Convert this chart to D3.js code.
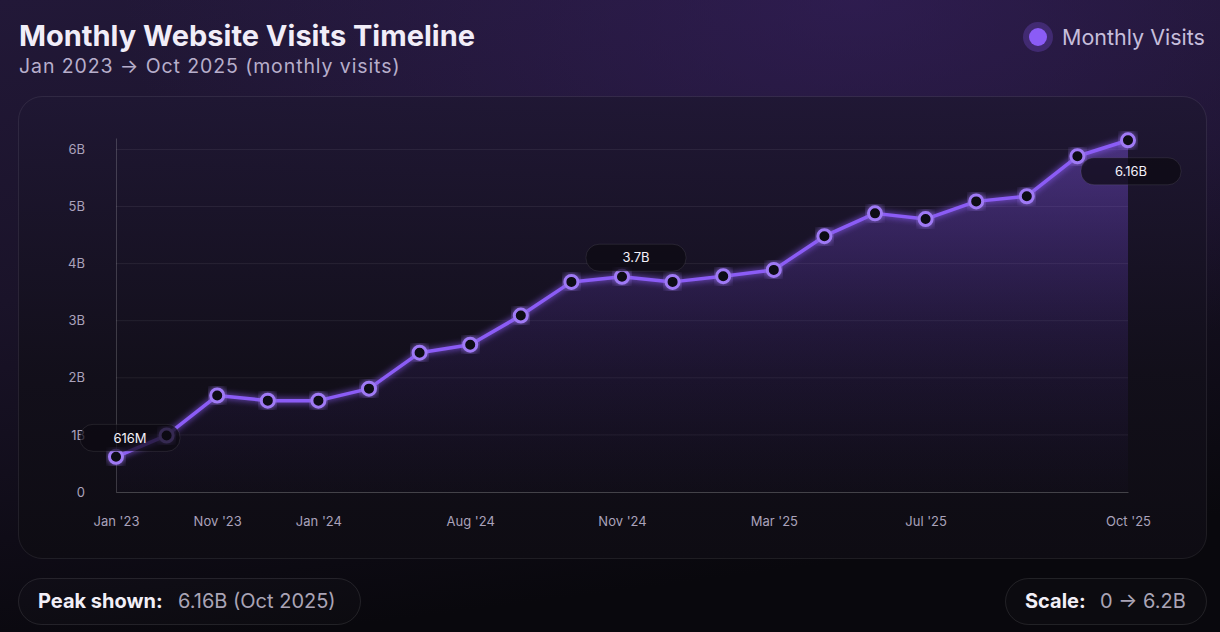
<!DOCTYPE html>
<head>
  <meta charset="utf-8">
  <title>Monthly Website Visits Timeline</title>
  <script src="https://d3js.org/d3.v7.min.js"></script>
  <style>
    body { margin: 0; background: #0b0a10; font-family: Inter, "Noto Sans", sans-serif; }
    svg { display: block; }
  </style>
</head>
<body>
<svg width="1220" height="632"></svg>

<script type="text/javascript">

// point labels (not strictly monthly, so the x scale works by index)
var months = ["Jan '23", "Jun '23", "Nov '23", "Dec '23", "Jan '24", "Mar '24", "May '24",
  "Aug '24", "Sep '24", "Oct '24", "Nov '24", "Dec '24", "Feb '25", "Mar '25",
  "Apr '25", "May '25", "Jul '25", "Aug '25", "Sep '25", "Sep '25", "Oct '25"];
// visits in billions
var visits = [0.616, 0.99, 1.69, 1.6, 1.6, 1.81, 2.44, 2.58, 3.09, 3.68, 3.77, 3.68,
  3.78, 3.89, 4.48, 4.88, 4.78, 5.09, 5.18, 5.88, 6.16];
var tickIdx = [0, 2, 4, 7, 10, 13, 16, 20];
var yTicks = [0, 1, 2, 3, 4, 5, 6];
var yMax = 6.2;
// callouts on the line
var notes = [
  { i: 0, text: "616M" },
  { i: 10, text: "3.7B" },
  { i: 20, text: "6.16B" }
];

var svg = d3.select("svg");
var defs = svg.append("defs");

// page background
var bg = defs.append("linearGradient").attr("id", "bg")
  .attr("x1", 0).attr("y1", 0).attr("x2", 0.25).attr("y2", 1);
bg.append("stop").attr("offset", "0%").attr("stop-color", "#221838");
bg.append("stop").attr("offset", "45%").attr("stop-color", "#1a1329");
bg.append("stop").attr("offset", "100%").attr("stop-color", "#09080d");
svg.append("rect").attr("width", 1220).attr("height", 632).attr("fill", "url(#bg)");

var glowTop = defs.append("radialGradient").attr("id", "glowTop")
  .attr("cx", 0.7).attr("cy", 0).attr("r", 0.6);
glowTop.append("stop").attr("offset", "0%").attr("stop-color", "#3a2166").attr("stop-opacity", 0.55);
glowTop.append("stop").attr("offset", "100%").attr("stop-color", "#3a2166").attr("stop-opacity", 0);
svg.append("rect").attr("width", 1220).attr("height", 632).attr("fill", "url(#glowTop)");

// card
var cardG = defs.append("linearGradient").attr("id", "card")
  .attr("x1", 0).attr("y1", 0).attr("x2", 0).attr("y2", 1);
cardG.append("stop").attr("offset", "0%").attr("stop-color", "#1f1733").attr("stop-opacity", 0.9);
cardG.append("stop").attr("offset", "60%").attr("stop-color", "#120f1a").attr("stop-opacity", 0.95);
cardG.append("stop").attr("offset", "100%").attr("stop-color", "#0e0c13");
svg.append("rect")
  .attr("x", 18.5).attr("y", 96.5).attr("width", 1188).attr("height", 462).attr("rx", 24)
  .attr("fill", "url(#card)")
  .attr("stroke", "rgba(255,255,255,0.08)");

// title + subtitle
svg.append("text").attr("x", 19).attr("y", 46)
  .attr("fill", "#f1edf8").attr("font-size", 29).attr("font-weight", 700)
  .text("Monthly Website Visits Timeline");
svg.append("text").attr("x", 19).attr("y", 73)
  .attr("fill", "#b7aecb").attr("font-size", 19.5).attr("letter-spacing", 0.9)
  .text("Jan 2023 \u2192 Oct 2025 (monthly visits)");

// legend
svg.append("circle").attr("cx", 1038).attr("cy", 37).attr("r", 15).attr("fill", "rgba(139,92,246,0.25)");
svg.append("circle").attr("cx", 1038).attr("cy", 37).attr("r", 9).attr("fill", "#8b5cf6");
svg.append("text").attr("x", 1062).attr("y", 45)
  .attr("fill", "#c6bedb").attr("font-size", 21.5)
  .text("Monthly Visits");

// scales
var x = d3.scalePoint().domain(d3.range(visits.length)).range([116, 1128]);
var y = d3.scaleLinear().domain([0, yMax]).range([492, 138]);

// grid
svg.append("g").selectAll("line").data(yTicks.filter(function(d) { return d > 0; }))
  .enter().append("line")
    .attr("x1", 116).attr("x2", 1128)
    .attr("y1", function(d) { return y(d); }).attr("y2", function(d) { return y(d); })
    .attr("stroke", "rgba(255,255,255,0.07)");

// area under line
var areaG = defs.append("linearGradient").attr("id", "areaG")
  .attr("gradientUnits", "userSpaceOnUse")
  .attr("x1", 0).attr("y1", y(yMax)).attr("x2", 0).attr("y2", y(0));
areaG.append("stop").attr("offset", "0%").attr("stop-color", "#8b5cf6").attr("stop-opacity", 0.4);
areaG.append("stop").attr("offset", "55%").attr("stop-color", "#6d3fd0").attr("stop-opacity", 0.15);
areaG.append("stop").attr("offset", "100%").attr("stop-color", "#4c2a99").attr("stop-opacity", 0.02);

var area = d3.area()
  .x(function(d, i) { return x(i); })
  .y0(y(0))
  .y1(function(d) { return y(d); });
svg.append("path").datum(visits).attr("d", area).attr("fill", "url(#areaG)");

// axes
var yAxis = d3.axisLeft(y).tickValues(yTicks).tickSize(0).tickPadding(31)
  .tickFormat(function(d) { return d === 0 ? "0" : d + "B"; });
var gy = svg.append("g").attr("transform", "translate(116,0)").call(yAxis);
gy.select(".domain").attr("stroke", "rgba(255,255,255,0.18)");

var xAxis = d3.axisBottom(x).tickValues(tickIdx).tickSize(0).tickPadding(25)
  .tickFormat(function(i) { return months[i]; });
var gx = svg.append("g").attr("transform", "translate(0,492)").call(xAxis);
gx.select(".domain").attr("stroke", "rgba(255,255,255,0.22)");

svg.selectAll(".tick text")
  .attr("fill", "#aaa2bb").attr("font-size", 13)
  .attr("font-family", "Inter, 'Noto Sans', sans-serif");

// glow filter
var f = defs.append("filter").attr("id", "glow")
  .attr("x", "-20%").attr("y", "-20%").attr("width", "140%").attr("height", "140%");
f.append("feGaussianBlur").attr("stdDeviation", 3).attr("result", "b");
var m = f.append("feMerge");
m.append("feMergeNode").attr("in", "b");
m.append("feMergeNode").attr("in", "SourceGraphic");

var line = d3.line()
  .x(function(d, i) { return x(i); })
  .y(function(d) { return y(d); });
svg.append("path").datum(visits).attr("d", line)
  .attr("fill", "none").attr("stroke", "#8b5cf6").attr("stroke-width", 3.5)
  .attr("stroke-linejoin", "round").attr("filter", "url(#glow)");

svg.append("g").selectAll("circle").data(visits).enter().append("circle")
  .attr("cx", function(d, i) { return x(i); })
  .attr("cy", function(d) { return y(d); })
  .attr("r", 6.5)
  .attr("fill", "#0c0812")
  .attr("stroke", "#9f7af5").attr("stroke-width", 3)
  .attr("filter", "url(#glow)");

// callout boxes
var bw = 100, bh = 27;
var nG = svg.append("g").selectAll("g").data(notes).enter().append("g")
  .attr("transform", function(d) {
    var cx = Math.min(x(d.i) + 14, 1131);
    var py = y(visits[d.i]);
    var cy = py - 20 - bh / 2 < y(yMax) ? py + 31 : py - 19;
    return "translate(" + cx + "," + cy + ")";
  });
nG.append("rect")
  .attr("x", -bw / 2).attr("y", -bh / 2).attr("width", bw).attr("height", bh).attr("rx", 13)
  .attr("fill", "rgba(12,10,18,0.72)").attr("stroke", "rgba(255,255,255,0.09)");
nG.append("text").attr("text-anchor", "middle").attr("dy", "0.36em")
  .attr("fill", "#f4f1fa").attr("font-size", 13)
  .text(function(d) { return d.text; });

// footer pills
var peakI = d3.maxIndex(visits);
var peakTxt = visits[peakI] + "B (" + months[peakI].replace(" '", " 20") + ")";

function pill(x0, w, label, val, valX) {
  var g = svg.append("g");
  g.append("rect").attr("x", x0 + 0.5).attr("y", 578.5).attr("width", w).attr("height", 46).attr("rx", 23)
    .attr("fill", "rgba(255,255,255,0.015)").attr("stroke", "rgba(255,255,255,0.1)");
  g.append("text").attr("x", x0 + 20).attr("y", 608)
    .attr("fill", "#f2eff7").attr("font-size", 20).attr("font-weight", 700).text(label);
  g.append("text").attr("x", valX).attr("y", 608)
    .attr("fill", "#aaa4b6").attr("font-size", 20).text(val);
}
pill(18, 342, "Peak shown:", peakTxt, 178);
pill(1005, 201, "Scale:", "0 \u2192 " + yMax + "B", 1100);

</script>
</body>
</html>
